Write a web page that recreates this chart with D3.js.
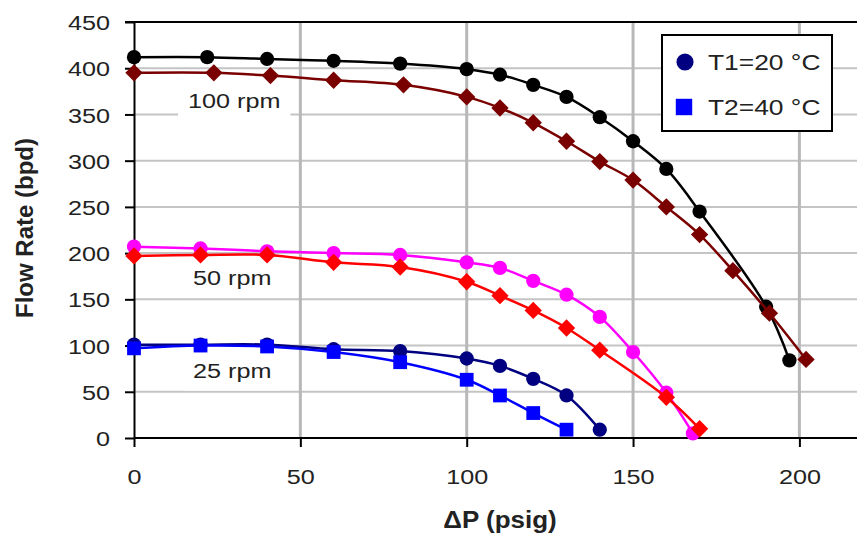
<!DOCTYPE html>
<html><head><meta charset="utf-8">
<script src="https://cdn.jsdelivr.net/npm/d3@7/dist/d3.min.js"></script>
<style>body{margin:0;background:#fff}</style>
</head><body>
<svg id="chart" width="857" height="535"></svg>
<script>
// ---- data ----
const xTicks = [0, 50, 100, 150, 200];
const yTicks = [0, 50, 100, 150, 200, 250, 300, 350, 400, 450];

const x100T1 = [0, 22, 40, 60, 80, 100, 110, 120, 130, 140, 150, 160, 170, 190, 197];
const y100T1 = [412, 412, 410, 408, 405, 399, 393, 382, 369, 347, 321, 291, 245, 142, 84];
const x100T2 = [0, 24, 41, 60, 81, 100, 110, 120, 130, 140, 150, 160, 170, 180, 191, 202];
const y100T2 = [395, 395, 392, 387, 382, 369, 357, 341, 321, 299, 279, 250, 220, 181, 135, 85];
const x50T1 = [0, 20, 40, 60, 80, 100, 110, 120, 130, 140, 150, 160, 168];
const y50T1 = [207, 205, 202, 200, 198, 190, 184, 170, 155, 131, 93, 49, 5];
const x50T2 = [0, 20, 40, 60, 80, 100, 110, 120, 130, 140, 160, 170];
const y50T2 = [197, 198, 198, 190, 185, 169, 154, 138, 119, 95, 44, 10];
const x25T1 = [0, 20, 40, 60, 80, 100, 110, 120, 130, 140];
const y25T1 = [101, 101, 101, 96, 94, 86, 78, 64, 46, 9];
const x25T2 = [0, 20, 40, 60, 80, 100, 110, 120, 130];
const y25T2 = [97, 100, 99, 93, 82, 63, 46, 27, 9];

const rpmLabels = ["100 rpm", "50 rpm", "25 rpm"];
const legendLabels = ["T1=20 \u00B0C", "T2=40 \u00B0C"];

// ---- setup ----
const svg = d3.select("#chart");
const x = d3.scaleLinear().domain([0, 220]).range([134, 134 + 220 * 3.327]);
const y = d3.scaleLinear().domain([0, 450]).range([438, 22]);
const FONT = "'Liberation Sans', Arial, sans-serif";

svg.append("rect").attr("width", 857).attr("height", 535).attr("fill", "#fff");

// gridlines
const grid = svg.append("g");
grid.selectAll("line.h").data(yTicks.filter(d => d > 0 && d < 450)).join("line")
  .attr("x1", x(0)).attr("x2", 857).attr("y1", d => y(d)).attr("y2", d => y(d))
  .attr("stroke", "#c4c4c4").attr("stroke-width", 2);
grid.selectAll("line.v").data(xTicks.filter(d => d > 0)).join("line")
  .attr("y1", y(0)).attr("y2", y(450)).attr("x1", d => x(d)).attr("x2", d => x(d))
  .attr("stroke", "#b8b8b8").attr("stroke-width", 3);

// rpm labels with white background
const labelPos = [[188, 108], [193, 285], [193, 378]];
rpmLabels.forEach((t, i) => {
  const g = svg.append("g").attr("transform", `translate(${labelPos[i][0]},${labelPos[i][1]})`);
  const txt = g.append("text").attr("transform", "scale(1.2,1)")
    .attr("font-family", FONT).attr("font-size", 21).attr("fill", "#222").text(t);
  const bb = txt.node().getBBox();
  g.insert("rect", "text").attr("x", -10).attr("y", bb.y - 6)
    .attr("width", bb.width * 1.2 + 20).attr("height", bb.height + 14).attr("fill", "#fff");
});

// axes
const yAxis = svg.append("g").attr("transform", `translate(${x(0)},0)`)
  .call(d3.axisLeft(y).tickValues(yTicks).tickSize(9).tickSizeOuter(0));
const xAxis = svg.append("g").attr("transform", `translate(0,${y(0)})`)
  .call(d3.axisBottom(x).tickValues(xTicks).tickSize(9).tickSizeOuter(0));
[yAxis, xAxis].forEach(a => {
  a.select(".domain").attr("stroke", "#000").attr("stroke-width", 2);
  a.selectAll(".tick line").attr("stroke", "#000").attr("stroke-width", 2);
  a.selectAll(".tick text").attr("font-family", FONT).attr("font-size", 21).attr("fill", "#222");
});
yAxis.selectAll(".tick text").attr("x", 0).attr("dy", "0.36em")
  .attr("transform", "translate(-24,0) scale(1.2,1)").attr("text-anchor", "end");
xAxis.selectAll(".tick text").attr("y", 0).attr("dy", 0)
  .attr("transform", "translate(0,46) scale(1.2,1)").attr("text-anchor", "middle");
// x domain line extend to right edge
xAxis.select(".domain").attr("d", `M${x(0)},0H857`);
// top border
svg.append("line").attr("x1", x(0) - 9).attr("x2", 857).attr("y1", y(450)).attr("y2", y(450))
  .attr("stroke", "#000").attr("stroke-width", 2);

// axis titles
svg.append("text").attr("transform", "translate(500,528) scale(1.13,1)")
  .attr("text-anchor", "middle").attr("font-family", FONT).attr("font-size", 23)
  .attr("font-weight", "bold").attr("fill", "#222").text("\u0394P (psig)");
svg.append("text").attr("transform", "translate(33,228) rotate(-90)")
  .attr("text-anchor", "middle").attr("font-family", FONT).attr("font-size", 24)
  .attr("font-weight", "bold").attr("fill", "#222").text("Flow Rate (bpd)");

// series
const series = [
  {xs: x100T1, ys: y100T1, color: "#000000", shape: "circle"},
  {xs: x100T2, ys: y100T2, color: "#7a0000", shape: "diamond"},
  {xs: x50T1, ys: y50T1, color: "#ff00ff", shape: "circle"},
  {xs: x50T2, ys: y50T2, color: "#ff0000", shape: "diamond"},
  {xs: x25T1, ys: y25T1, color: "#000080", shape: "circle"},
  {xs: x25T2, ys: y25T2, color: "#0000ff", shape: "square"}
];
const line = d3.line().x(d => x(d[0])).y(d => y(d[1])).curve(d3.curveCatmullRom.alpha(0.5));
const sym = {
  circle: d3.symbol().type(d3.symbolCircle).size(160),
  diamond: d3.symbol().type(d3.symbolSquare).size(150),
  square: d3.symbol().type(d3.symbolSquare).size(190)
};
series.forEach(s => {
  const pts = s.xs.map((v, i) => [v, s.ys[i]]);
  svg.append("path").datum(pts).attr("d", line).attr("fill", "none")
    .attr("stroke", s.color).attr("stroke-width", 2.5);
  svg.append("g").selectAll("path").data(pts).join("path")
    .attr("d", sym[s.shape])
    .attr("transform", d => `translate(${x(d[0])},${y(d[1])})` + (s.shape === "diamond" ? " rotate(45)" : ""))
    .attr("fill", s.color);
});

// legend
const lg = svg.append("g");
lg.append("rect").attr("x", 662).attr("y", 35).attr("width", 170).attr("height", 96)
  .attr("fill", "#fff").attr("stroke", "#000").attr("stroke-width", 2);
lg.append("path").attr("d", d3.symbol().type(d3.symbolCircle).size(230)())
  .attr("transform", "translate(685,62)").attr("fill", "#000080");
lg.append("path").attr("d", d3.symbol().type(d3.symbolSquare).size(270)())
  .attr("transform", "translate(684,107)").attr("fill", "#0000ff");
legendLabels.forEach((t, i) => {
  lg.append("text").attr("transform", `translate(708,${i === 0 ? 70 : 115}) scale(1.2,1)`)
    .attr("font-family", FONT).attr("font-size", 22).attr("fill", "#222").text(t);
});
</script>
</body></html>
